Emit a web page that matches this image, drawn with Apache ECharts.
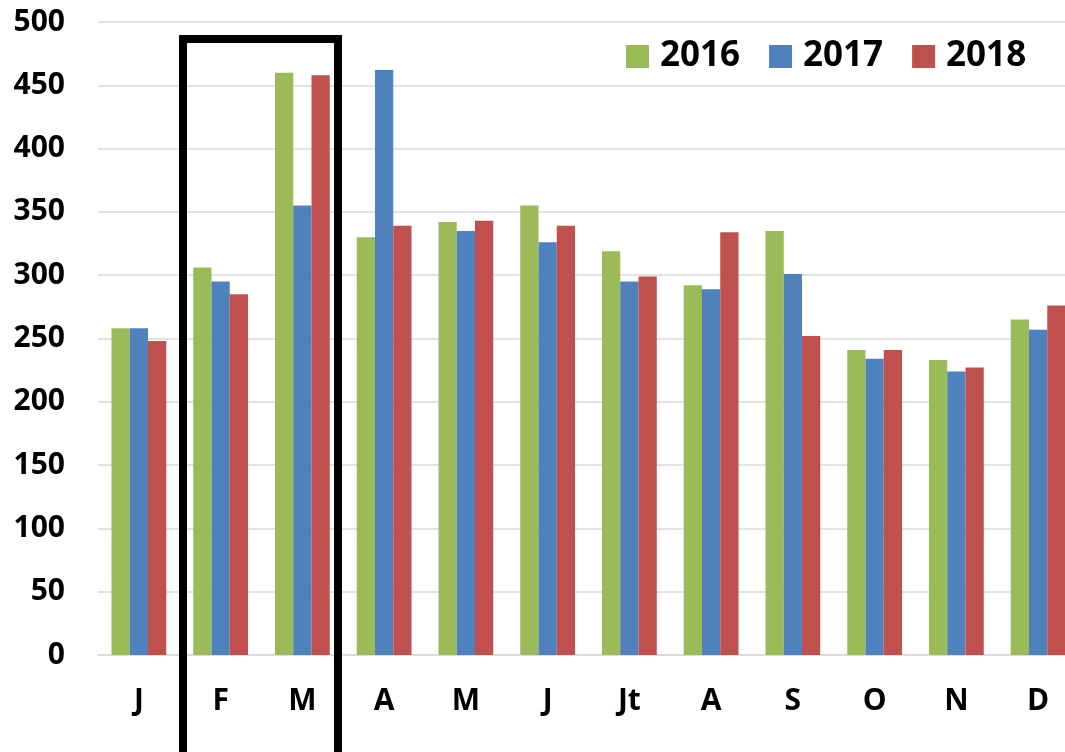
<!DOCTYPE html>
<html>
<head>
<meta charset="utf-8">
<script src="https://cdn.jsdelivr.net/npm/echarts@6/dist/echarts.min.js"></script>
<style>
  html, body { margin: 0; padding: 0; background: #fff; }
  #chart { width: 1065px; height: 752px; }
</style>
</head>
<body>
<div id="chart"></div>
<script>
// 月份
const months = ['J', 'F', 'M', 'A', 'M', 'J', 'Jt', 'A', 'S', 'O', 'N', 'D'];
const years = ['2016', '2017', '2018'];
const values2016 = [258, 306, 460, 330, 342, 355, 319, 292, 335, 241, 233, 265];
const values2017 = [258, 295, 355, 462, 335, 326, 295, 289, 301, 234, 224, 257];
const values2018 = [248, 285, 458, 339, 343, 339, 299, 334, 252, 241, 227, 276];
const colors = ['#9BBB59', '#4F81BD', '#C0504D'];

const font = '"Open Sans", "Noto Sans", sans-serif';
const chart = echarts.init(document.getElementById('chart'));

const seriesData = [values2016, values2017, values2018];
const option = {
    animation: false,
    color: colors,
    grid: {
        left: 98,
        top: 22,
        right: -14,   // 右边被裁掉一点
        bottom: 97,
        outerBoundsMode: 'none'
    },
    legend: {
        top: 34,
        left: 621,
        itemWidth: 23,
        itemHeight: 23,
        itemGap: 29,
        icon: 'rect',
        textStyle: {
            fontFamily: font,
            fontWeight: 'bold',
            fontSize: 35,
            color: '#000',
            padding: [0, 0, 0, 6]
        },
        data: years
    },
    xAxis: {
        type: 'category',
        data: months,
        axisLine: { lineStyle: { color: '#d9d9d9', width: 1.5 } },
        axisTick: { show: false },
        axisLabel: {
            margin: 31,
            fontFamily: font,
            fontWeight: 'bold',
            fontSize: 30,
            color: '#000'
        }
    },
    yAxis: {
        type: 'value',
        min: 0,
        max: 500,
        interval: 50,
        axisLine: { show: false },
        axisTick: { show: false },
        splitLine: { lineStyle: { color: '#d9d9d9', width: 1.5 } },
        axisLabel: {
            margin: 33,
            fontFamily: font,
            fontWeight: 'bold',
            fontSize: 30,
            color: '#000'
        }
    },
    series: years.map((y, i) => ({
        name: y,
        type: 'bar',
        data: seriesData[i],
        barGap: '0%',
        barCategoryGap: '33%',
        itemStyle: { color: colors[i] }
    })),
    // 黑框 (F, M)
    graphic: [{
        type: 'rect',
        z: 100,
        shape: { x: 183, y: 39, width: 155, height: 730 },
        style: { fill: 'none', stroke: '#000', lineWidth: 8 }
    }]
};
chart.setOption(option);
</script>
</body>
</html>
